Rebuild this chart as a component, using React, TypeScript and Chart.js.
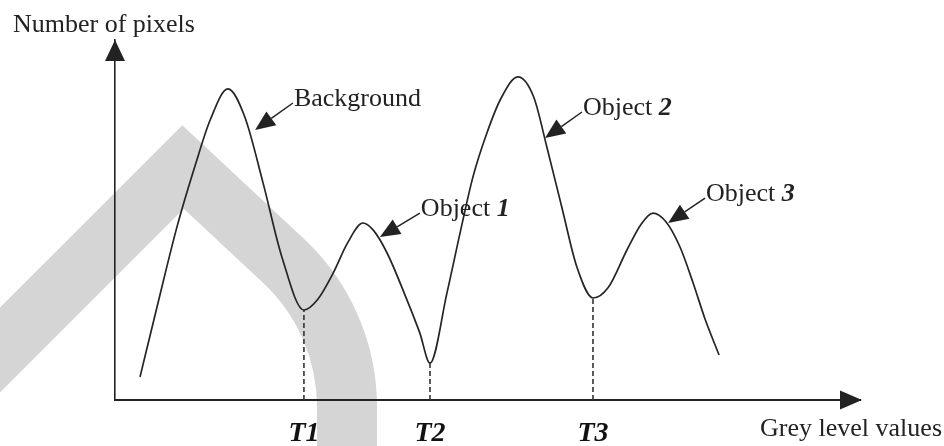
import React, { useEffect, useRef } from 'react';
import { Chart, registerables } from 'chart.js';

Chart.register(...registerables);

// Histogram outline: grey level (x) against number of pixels (y)
const GREY_LEVEL = [
  8.4, 14.1, 20.8, 27.0, 32.0, 37.9, 43.5, 49.7, 56.0, 63.4,
  68.0, 73.2, 78.0, 83.2, 86.6, 91.3, 98.0, 102.3, 105.7,
  111.4, 115.8, 120.1, 124.8, 129.5, 135.2, 140.5, 145.0, 150.0, 155.0, 160.4,
  165.5, 171.8, 176.5, 180.5, 184.8, 189.6, 194.0, 198.0, 202.7,
];
const PIXEL_COUNT = [
  7.7, 31, 57.7, 78.5, 93.5, 103.7, 94.5, 72.3, 47.7, 30,
  33.5, 42.3, 52.3, 59, 56.7, 49, 33.3, 22.3, 12.3,
  35.7, 55.7, 74.3, 89, 100.5, 107.7, 101, 84, 64, 44.3, 34,
  37.5, 50, 58.5, 62.3, 59.5, 51, 39, 27, 15,
];

// Thresholds at the valleys between modes
const THRESHOLD_LEVEL = [63.4, 105.7, 160.4];
const THRESHOLD_COUNT = [30, 12.3, 34];
const THRESHOLD_LABELS = ['T1', 'T2', 'T3'];

// Mode names, the point each arrow touches and where its caption starts
const MODE_NAMES = ['Background', 'Object', 'Object', 'Object'];
const MODE_NUMBERS = ['', '1', '2', '3'];
const ARROW_TIP_LEVEL = [47.0, 88.9, 144.3, 185.6];
const ARROW_TIP_COUNT = [90, 54.3, 87.3, 59];
const CAPTION_LEVEL = [59.7, 102.3, 156.7, 198];
const CAPTION_COUNT = [99, 62.3, 96, 67.3];

const INK = '#222222';
const SERIF = '"Liberation Serif", "Times New Roman", serif';

const decor = {
  id: 'decor',
  beforeDraw(chart: any) {
    // light grey watermark band behind the figure
    const { ctx } = chart;
    ctx.save();
    ctx.strokeStyle = '#d5d5d5';
    ctx.lineWidth = 60;
    ctx.lineJoin = 'miter';
    ctx.beginPath();
    ctx.moveTo(-90, 440);
    ctx.lineTo(183, 167);
    ctx.arcTo(347, 320, 347, 600, 200);
    ctx.lineTo(347, 600);
    ctx.stroke();
    ctx.restore();
  },
  afterDraw(chart: any) {
    const { ctx, chartArea: a, scales } = chart;
    const x = scales.x;
    const y = scales.y;
    ctx.save();
    ctx.fillStyle = INK;
    ctx.strokeStyle = INK;

    // axis arrowheads
    ctx.beginPath();
    ctx.moveTo(a.left, a.top);
    ctx.lineTo(a.left - 10, a.top + 21);
    ctx.lineTo(a.left + 10, a.top + 21);
    ctx.closePath();
    ctx.fill();
    ctx.beginPath();
    ctx.moveTo(a.right + 2, a.bottom);
    ctx.lineTo(a.right - 20, a.bottom - 9.5);
    ctx.lineTo(a.right - 20, a.bottom + 9.5);
    ctx.closePath();
    ctx.fill();

    // axis titles
    ctx.font = `26px ${SERIF}`;
    ctx.textBaseline = 'alphabetic';
    ctx.textAlign = 'left';
    ctx.fillText('Number of pixels', 13, 32);
    ctx.textAlign = 'right';
    ctx.fillText('Grey level values', chart.width - 2, a.bottom + 36);

    // mode captions with arrows
    ctx.textAlign = 'left';
    MODE_NAMES.forEach((name, i) => {
      const tx = x.getPixelForValue(ARROW_TIP_LEVEL[i]);
      const ty = y.getPixelForValue(ARROW_TIP_COUNT[i]);
      const cx = x.getPixelForValue(CAPTION_LEVEL[i]);
      const cy = y.getPixelForValue(CAPTION_COUNT[i]);
      const len = Math.hypot(tx - cx, ty - cy);
      const dx = (tx - cx) / len;
      const dy = (ty - cy) / len;
      const head = 20;
      const half = 8.5;
      const bx = tx - dx * head;
      const by = ty - dy * head;
      ctx.lineWidth = 1.5;
      ctx.beginPath();
      ctx.moveTo(cx, cy);
      ctx.lineTo(bx, by);
      ctx.stroke();
      ctx.beginPath();
      ctx.moveTo(tx, ty);
      ctx.lineTo(bx - dy * half, by + dx * half);
      ctx.lineTo(bx + dy * half, by - dx * half);
      ctx.closePath();
      ctx.fill();

      ctx.font = `26px ${SERIF}`;
      const text = MODE_NUMBERS[i] ? name + ' ' : name;
      ctx.fillText(text, cx + 1, cy + 3);
      if (MODE_NUMBERS[i]) {
        const w = ctx.measureText(text).width;
        ctx.font = `italic bold 26px ${SERIF}`;
        ctx.fillText(MODE_NUMBERS[i], cx + 1 + w, cy + 3);
      }
    });
    ctx.restore();
  },
};

export default function App() {
  const ref = useRef<HTMLCanvasElement>(null);

  useEffect(() => {
    const curve = GREY_LEVEL.map((g, i) => ({ x: g, y: PIXEL_COUNT[i] }));
    const thresholdSets = THRESHOLD_LEVEL.map((t, i) => ({
      label: THRESHOLD_LABELS[i],
      data: [
        { x: t, y: 0 },
        { x: t, y: THRESHOLD_COUNT[i] },
      ],
      borderColor: '#333333',
      borderWidth: 1.6,
      borderDash: [5, 3],
      pointRadius: 0,
      fill: false,
    }));

    const chart = new Chart(ref.current as HTMLCanvasElement, {
      type: 'line',
      data: {
        datasets: [
          {
            label: 'Histogram',
            data: curve,
            borderColor: '#252525',
            borderWidth: 1.7,
            pointRadius: 0,
            cubicInterpolationMode: 'monotone',
            fill: false,
          },
          ...thresholdSets,
        ],
      },
      options: {
        responsive: false,
        animation: false,
        layout: { padding: { top: 40, right: 84, left: 0, bottom: 0 } },
        plugins: {
          legend: { display: false },
          tooltip: { enabled: false },
        },
        scales: {
          x: {
            type: 'linear',
            min: 0,
            max: 250,
            grid: { display: false, drawTicks: false },
            border: { display: true, color: INK, width: 2 },
            afterBuildTicks: (axis: any) => {
              axis.ticks = THRESHOLD_LEVEL.map((v) => ({ value: v }));
            },
            afterFit: (axis: any) => {
              axis.height = 46;
            },
            ticks: {
              autoSkip: false,
              maxRotation: 0,
              padding: 17,
              color: '#111111',
              font: { family: SERIF, size: 28, weight: 'bold', style: 'italic' },
              callback: (_v: any, i: number) => THRESHOLD_LABELS[i],
            },
          },
          y: {
            type: 'linear',
            min: 0,
            max: 120,
            grid: { display: false, drawTicks: false },
            border: { display: true, color: INK, width: 1.6 },
            ticks: { display: false },
            afterFit: (axis: any) => {
              axis.width = 115;
            },
          },
        },
      },
      plugins: [decor],
    } as any);

    return () => chart.destroy();
  }, []);

  return (
    <div style={{ position: 'fixed', left: 0, top: 0, width: 944, height: 446, background: '#ffffff' }}>
      <canvas ref={ref} width={944} height={446} style={{ display: 'block', width: 944, height: 446 }} />
    </div>
  );
}
